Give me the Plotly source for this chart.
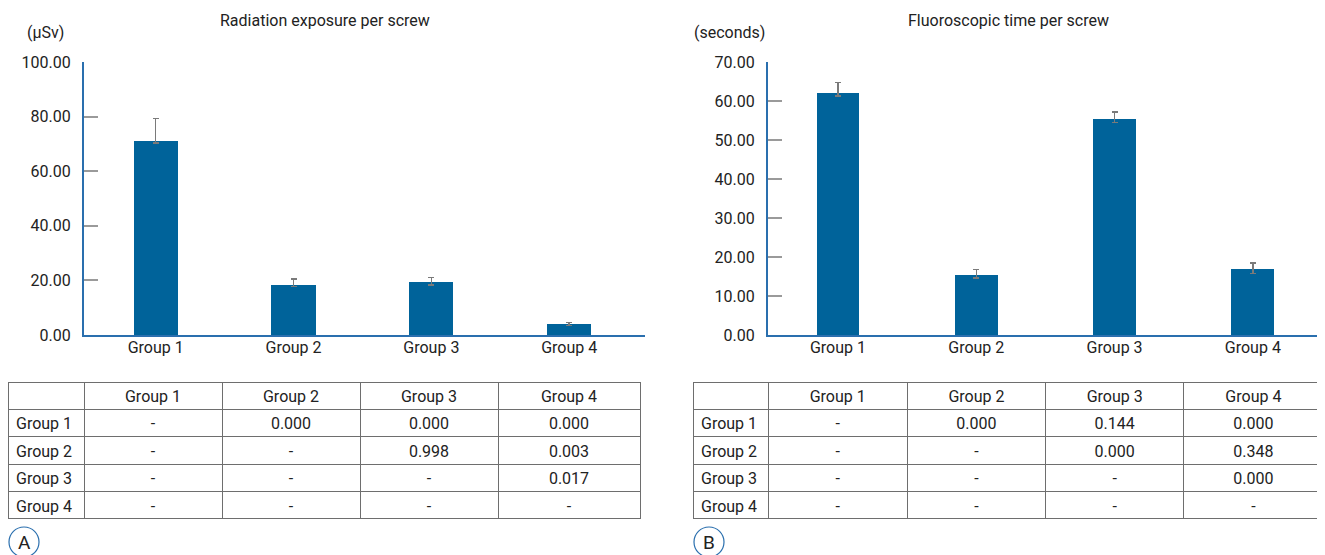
import plotly.graph_objects as go

W, H = 1325, 555
OFF = 8  # page body margin in the browser
FONT = "Roboto, Liberation Sans, sans-serif"

groups = ["Group 1", "Group 2", "Group 3", "Group 4"]

# Panel A: radiation exposure per screw (μSv)
rad_mean = [71.0, 18.5, 19.5, 4.0]
rad_err_plus = [8.3, 2.0, 1.5, 0.5]
rad_err_minus = [0.7, 0.7, 1.2, 0.5]
rad_ticks = [0, 20, 40, 60, 80, 100]

# Panel B: fluoroscopic time per screw (seconds)
flu_mean = [62.0, 15.5, 55.5, 16.8]
flu_err_plus = [2.8, 1.3, 1.7, 1.7]
flu_err_minus = [0.7, 0.9, 1.0, 1.0]
flu_ticks = [0, 10, 20, 30, 40, 50, 60, 70]

# p-value tables
rad_p = [["-", "0.000", "0.000", "0.000"],
         ["-", "-", "0.998", "0.003"],
         ["-", "-", "-", "0.017"],
         ["-", "-", "-", "-"]]
flu_p = [["-", "0.000", "0.144", "0.000"],
         ["-", "-", "0.000", "0.348"],
         ["-", "-", "-", "0.000"],
         ["-", "-", "-", "-"]]

BAR = "#00639a"
AXIS = "#2a6fae"
TXT = "#222222"


def px(x):
    return (x - OFF) / W


def py(y):
    return 1 - (y - OFF) / H


fig = go.Figure()

fig.add_trace(go.Bar(
    x=groups, y=rad_mean, width=0.32, marker=dict(color=BAR, line=dict(width=0)),
    error_y=dict(type="data", symmetric=False, array=rad_err_plus, arrayminus=rad_err_minus,
                 color="#7a7a7a", thickness=1.5, width=3),
    xaxis="x", yaxis="y", showlegend=False))
fig.add_trace(go.Bar(
    x=groups, y=flu_mean, width=0.31, marker=dict(color=BAR, line=dict(width=0)),
    error_y=dict(type="data", symmetric=False, array=flu_err_plus, arrayminus=flu_err_minus,
                 color="#7a7a7a", thickness=1.5, width=3),
    xaxis="x2", yaxis="y2", showlegend=False))


def table(pvals, x0, x1, widths):
    row_names = [g.replace(" ", "\u00a0") for g in groups]
    cols = [row_names] + [[row[j] for row in pvals] for j in range(4)]
    return go.Table(
        domain=dict(x=[px(x0), px(x1)], y=[py(520), py(382)]),
        columnwidth=widths,
        header=dict(values=[""] + groups, height=27.4,
                    align=["left", "center", "center", "center", "center"],
                    fill=dict(color="white"), line=dict(color="#6e6e6e", width=1),
                    font=dict(family=FONT, size=16, color=TXT)),
        cells=dict(values=cols, height=27.4,
                   align=["left", "center", "center", "center", "center"],
                   fill=dict(color="white"), line=dict(color="#6e6e6e", width=1),
                   font=dict(family=FONT, size=16, color=TXT)),
    )


fig.add_trace(table(rad_p, 8, 640, [76, 138, 138, 138, 142]))
fig.add_trace(table(flu_p, 693, 1323, [75, 139, 138, 138, 139]))

yax_common = dict(showline=True, linecolor=AXIS, linewidth=2, ticks="inside", ticklen=14,
                  tickcolor="#9a9a9a", tickwidth=2, showgrid=False, zeroline=False,
                  tickformat=".2f", tickfont=dict(family=FONT, size=16, color=TXT),
                  ticklabelstandoff=8, automargin=False)
xax_common = dict(showline=True, linecolor=AXIS, linewidth=2, ticks="", showgrid=False,
                  tickfont=dict(family=FONT, size=16, color=TXT), type="category",
                  ticklabelstandoff=-3, automargin=False)


def note(text, x, y, size):
    return dict(text=text, x=px(x), y=py(y), xref="paper", yref="paper",
                xanchor="center", yanchor="middle", showarrow=False,
                font=dict(family=FONT, size=size, color=TXT))


fig.update_layout(
    template="none",
    width=W, height=H, margin=dict(l=0, r=0, t=0, b=0, pad=0, autoexpand=False),
    paper_bgcolor="white", plot_bgcolor="white",
    font=dict(family=FONT, color=TXT),
    bargap=0,
    xaxis=dict(domain=[px(84), px(645)], range=[-0.52, 3.55], anchor="y", **xax_common),
    yaxis=dict(domain=[py(335), py(62)], range=[0, 100], tickvals=rad_ticks, anchor="x", **yax_common),
    xaxis2=dict(domain=[px(768), px(1322)], range=[-0.506, 3.5], anchor="y2", **xax_common),
    yaxis2=dict(domain=[py(335), py(62)], range=[0, 70], tickvals=flu_ticks, anchor="x2", **yax_common),
    annotations=[
        note("Radiation exposure per screw", 325, 20, 16),
        note("Fluoroscopic time per screw", 1008, 20, 16),
        note("(μSv)", 45, 33, 16),
        note("(seconds)", 730, 33, 16),
        note("A", 24, 542, 19),
        note("B", 709, 542, 19),
    ],
    shapes=[
        dict(type="circle", xref="paper", yref="paper", x0=px(9), x1=px(39), y0=py(557), y1=py(527),
             line=dict(color=AXIS, width=1.2)),
        dict(type="circle", xref="paper", yref="paper", x0=px(694), x1=px(724), y0=py(557), y1=py(527),
             line=dict(color=AXIS, width=1.2)),
    ],
)

fig.write_html("out.html")
